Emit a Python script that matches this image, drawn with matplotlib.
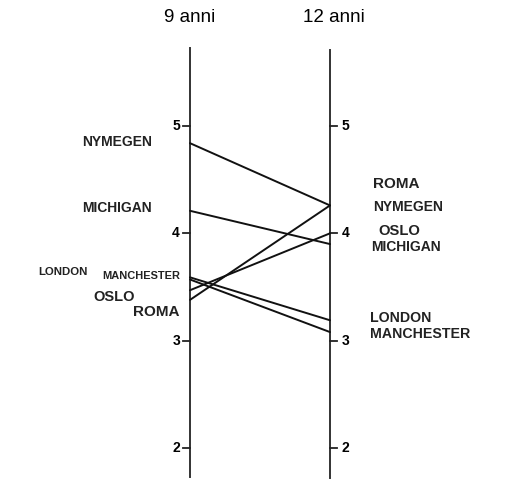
import matplotlib
matplotlib.use("Agg")
import matplotlib.pyplot as plt

# Data
ages = ["9 anni", "12 anni"]
cities = ["NYMEGEN", "MICHIGAN", "LONDON", "MANCHESTER", "OSLO", "ROMA"]
val_9 = [4.84, 4.21, 3.59, 3.57, 3.47, 3.38]
val_12 = [4.26, 3.90, 3.19, 3.08, 4.00, 4.26]
ticks = [2, 3, 4, 5]

W, H = 516, 493
fig = plt.figure(figsize=(W / 100, H / 100), dpi=100)
ax = fig.add_axes([0, 0, 1, 1])
ax.axis("off")

# pixel mapping helpers for limits only
x0px, x1px = 190, 330
y5px, y2px = 126, 448
ppu = (y2px - y5px) / 3.0
ax.set_xlim(-x0px / (x1px - x0px), (W - x0px) / (x1px - x0px))
ax.set_ylim(5 - (H - y5px) / ppu, 5 + y5px / ppu)

dx = 1.0 / (x1px - x0px)  # one pixel in x data units
dy = 1.0 / ppu            # one pixel in y data units

# vertical axes
ax.plot([0, 0], [5 + 78 * dy, 5 - 351 * dy], color="#333333", lw=1.4)
ax.plot([1, 1], [5 + 76 * dy, 5 - 352 * dy], color="#333333", lw=1.4)

tick_font = dict(family="Liberation Sans", fontsize=10, fontweight="bold")
for t in ticks:
    ax.plot([-7 * dx, 0], [t, t], color="#222222", lw=1.3)
    ax.plot([1, 1 + 7 * dx], [t, t], color="#222222", lw=1.3)
    ax.text(-10 * dx, t, str(t), ha="right", va="center", **tick_font)
    ax.text(1 + 12 * dx, t, str(t), ha="left", va="center", **tick_font)

# titles
ax.text(0, 5 + 109 * dy, ages[0], ha="center", va="center",
        family="Liberation Sans", fontsize=13.5)
ax.text(1 + 4 * dx, 5 + 109 * dy, ages[1], ha="center", va="center",
        family="Liberation Sans", fontsize=13.5)

# slope lines
for a, b in zip(val_9, val_12):
    ax.plot([0, 1], [a, b], color="#111111", lw=1.4, solid_capstyle="round")

# label placement (x pixel of anchor edge, y pixel center, fontsize)
lab_font = dict(family="Liberation Sans", fontweight="bold", color="#222222")
left_pos = {
    "NYMEGEN": (152, 142, 10),
    "MICHIGAN": (152, 208, 10),
    "LONDON": (88, 272, 8.2),
    "MANCHESTER": (180, 276, 7.9),
    "OSLO": (135, 297, 10.5),
    "ROMA": (180, 312, 11),
}
right_pos = {
    "ROMA": (373, 184, 11),
    "NYMEGEN": (373, 207, 10),
    "OSLO": (378, 231, 10.6),
    "MICHIGAN": (371, 247, 10),
    "LONDON": (370, 318, 10.2),
    "MANCHESTER": (370, 334, 10.2),
}
for c in cities:
    px, py, fs = left_pos[c]
    ax.text((px - x0px) * dx, 5 - (py - y5px) * dy, c, ha="right", va="center",
            fontsize=fs, **lab_font)
    px, py, fs = right_pos[c]
    ax.text((px - x0px) * dx, 5 - (py - y5px) * dy, c, ha="left", va="center",
            fontsize=fs, **lab_font)

fig.savefig("out.png", dpi=100, facecolor="white")
